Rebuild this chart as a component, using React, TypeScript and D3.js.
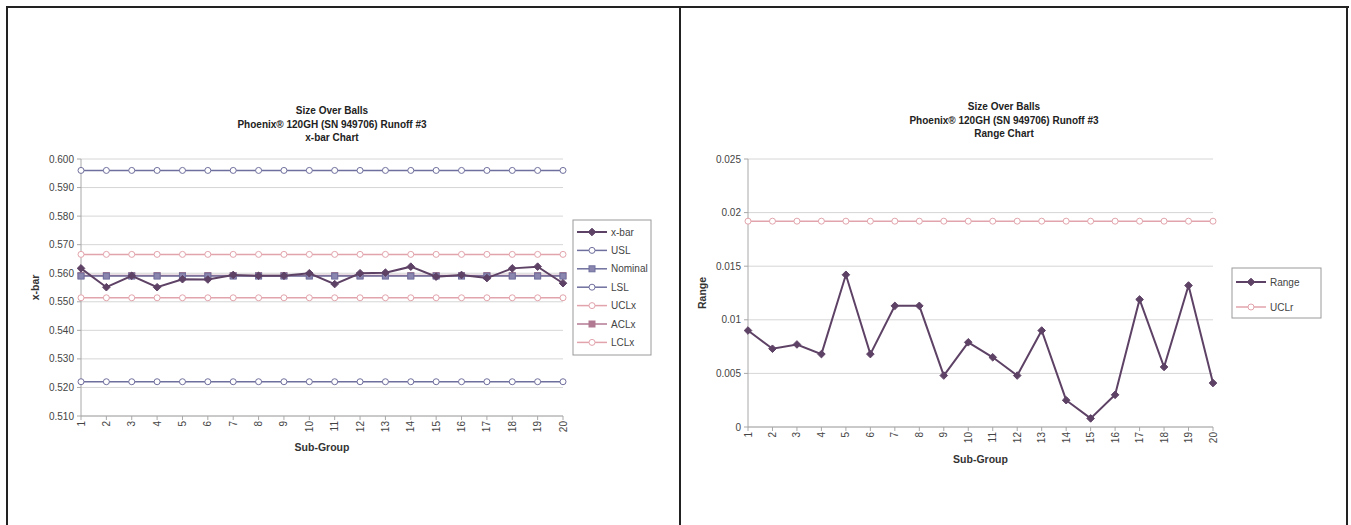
import React from "react";
import * as d3 from "d3";

// Sub-group numbers shared by both charts
const subGroups = d3.range(1, 21);

// x-bar chart series
const xbarValues = [0.5617, 0.5551, 0.5591, 0.5551, 0.5579, 0.5578, 0.5594, 0.5591, 0.5591, 0.56, 0.5562, 0.56, 0.5602, 0.5623, 0.5588, 0.5594, 0.5583, 0.5617, 0.5623, 0.5565];
const usl = 0.596;
const nominal = 0.559;
const lsl = 0.522;
const uclX = 0.5666;
const aclX = 0.5592;
const lclX = 0.5514;
const xbarTicks = [0.51, 0.52, 0.53, 0.54, 0.55, 0.56, 0.57, 0.58, 0.59, 0.6];

// Range chart series
const rangeValues = [0.009, 0.0073, 0.0077, 0.0068, 0.0142, 0.0068, 0.0113, 0.0113, 0.0048, 0.0079, 0.0065, 0.0048, 0.009, 0.0025, 0.0008, 0.003, 0.0119, 0.0056, 0.0132, 0.0041];
const uclR = 0.0192;
const rangeTicks = [0, 0.005, 0.01, 0.015, 0.02, 0.025];

const titleLines = ["Size Over Balls", "Phoenix® 120GH (SN 949706) Runoff #3"];

const FONT = "'Liberation Sans', Arial, sans-serif";
const C_DARK = "#5e4266";
const C_BLUE = "#6f6f9e";
const C_PINK = "#e2a4ac";
const C_PINK_DARK = "#b27a92";
const C_GRID = "#d6d6d6";
const C_AXIS = "#a8a8a8";

type Marker = "diamond" | "circle" | "square";

function MarkerShape({ x, y, kind, color, fill }: { x: number; y: number; kind: Marker; color: string; fill: string }) {
  if (kind === "diamond") {
    const s = 3.8;
    return <path d={`M${x},${y - s}L${x + s},${y}L${x},${y + s}L${x - s},${y}Z`} fill={fill} stroke={color} strokeWidth={1} />;
  }
  if (kind === "square") {
    return <rect x={x - 3} y={y - 3} width={6} height={6} fill={fill} stroke={color} strokeWidth={1} />;
  }
  return <circle cx={x} cy={y} r={3} fill={fill} stroke={color} strokeWidth={1} />;
}

interface Series {
  name: string;
  values: number[];
  color: string;
  width: number;
  marker: Marker;
  fill: string;
}

function ChartPanel(props: {
  x0: number; x1: number; y0: number; y1: number;
  domain: [number, number]; ticks: number[]; tickFmt: (v: number) => string;
  series: Series[]; title: string[]; titleX: number; titleY: number;
  yTitle: string; yTitleX: number; xTitleY: number; tickLabelY: number;
  legend: { x: number; y: number; w: number; h: number; rowY: number; step: number };
}) {
  const { x0, x1, y0, y1, domain, ticks, tickFmt, series, title, titleX, titleY, yTitle, yTitleX, xTitleY, tickLabelY, legend } = props;
  const x = d3.scalePoint<number>().domain(subGroups).range([x0, x1]);
  const y = d3.scaleLinear().domain(domain).range([y1, y0]);
  const line = d3.line<number>().x((_, i) => x(subGroups[i])!).y((v) => y(v));
  return (
    <g fontFamily={FONT}>
      {title.map((t, i) => (
        <text key={i} x={titleX} y={titleY + i * 13.5} textAnchor="middle" fontSize={10} fontWeight="bold" fill="#222">{t}</text>
      ))}
      {ticks.map((t) => (
        <g key={t}>
          <line x1={x0} x2={x1} y1={y(t)} y2={y(t)} stroke={C_GRID} strokeWidth={1} />
          <line x1={x0 - 4} x2={x0} y1={y(t)} y2={y(t)} stroke={C_AXIS} />
          <text x={x0 - 7} y={y(t)} dy="0.35em" textAnchor="end" fontSize={10} fill="#444">{tickFmt(t)}</text>
        </g>
      ))}
      <line x1={x0} x2={x0} y1={y0} y2={y1} stroke={C_AXIS} />
      <line x1={x0} x2={x1} y1={y1} y2={y1} stroke={C_AXIS} />
      {subGroups.map((g) => (
        <g key={g}>
          <line x1={x(g)} x2={x(g)} y1={y1} y2={y1 + 4} stroke={C_AXIS} />
          <text transform={`translate(${x(g)},${tickLabelY}) rotate(-90)`} dy="0.35em" textAnchor="end" fontSize={10} fill="#444">{g}</text>
        </g>
      ))}
      <text x={(x0 + x1) / 2} y={xTitleY} textAnchor="middle" fontSize={10.5} fontWeight="bold" fill="#333">Sub-Group</text>
      <text transform={`translate(${yTitleX},${(y0 + y1) / 2}) rotate(-90)`} textAnchor="middle" dy="0.35em" fontSize={10.5} fontWeight="bold" fill="#333">{yTitle}</text>
      {series.slice().reverse().map((s) => (
        <g key={s.name}>
          <path d={line(s.values)!} fill="none" stroke={s.color} strokeWidth={s.width} />
          {s.values.map((v, i) => (
            <MarkerShape key={i} x={x(subGroups[i])!} y={y(v)} kind={s.marker} color={s.color} fill={s.fill} />
          ))}
        </g>
      ))}
      <rect x={legend.x} y={legend.y} width={legend.w} height={legend.h} fill="#fff" stroke="#9a9a9a" />
      {series.map((s, i) => {
        const ly = legend.rowY + i * legend.step;
        const lx = legend.x + 4;
        return (
          <g key={s.name}>
            <line x1={lx} x2={lx + 30} y1={ly} y2={ly} stroke={s.color} strokeWidth={s.width} />
            <MarkerShape x={lx + 15} y={ly} kind={s.marker} color={s.color} fill={s.fill} />
            <text x={lx + 34} y={ly} dy="0.35em" fontSize={10} fill="#444">{s.name}</text>
          </g>
        );
      })}
    </g>
  );
}

const flat = (v: number) => subGroups.map(() => v);

export default function App() {
  const leftSeries: Series[] = [
    { name: "x-bar", values: xbarValues, color: C_DARK, width: 2, marker: "diamond", fill: C_DARK },
    { name: "USL", values: flat(usl), color: C_BLUE, width: 1.5, marker: "circle", fill: "#fff" },
    { name: "Nominal", values: flat(nominal), color: C_BLUE, width: 1.5, marker: "square", fill: "#8a86b0" },
    { name: "LSL", values: flat(lsl), color: C_BLUE, width: 1.5, marker: "circle", fill: "#fff" },
    { name: "UCLx", values: flat(uclX), color: C_PINK, width: 1.5, marker: "circle", fill: "#fff" },
    { name: "ACLx", values: flat(aclX), color: C_PINK_DARK, width: 1.5, marker: "square", fill: C_PINK_DARK },
    { name: "LCLx", values: flat(lclX), color: C_PINK, width: 1.5, marker: "circle", fill: "#fff" },
  ];
  const rightSeries: Series[] = [
    { name: "Range", values: rangeValues, color: C_DARK, width: 2, marker: "diamond", fill: C_DARK },
    { name: "UCLr", values: flat(uclR), color: C_PINK, width: 1.5, marker: "circle", fill: "#fff" },
  ];
  return (
    <svg width={1351} height={525} style={{ position: "absolute", left: 0, top: 0, background: "#fff" }}>
      <rect x={0} y={0} width={1351} height={525} fill="#fff" />
      <ChartPanel
        x0={81} x1={563} y0={159} y1={416}
        domain={[0.51, 0.6]} ticks={xbarTicks} tickFmt={d3.format(".3f")}
        series={leftSeries} title={[...titleLines, "x-bar Chart"]} titleX={332} titleY={114}
        yTitle="x-bar" yTitleX={35} xTitleY={451} tickLabelY={421}
        legend={{ x: 573, y: 220, w: 78, h: 135, rowY: 232, step: 18.4 }}
      />
      <ChartPanel
        x0={748} x1={1213} y0={159} y1={427}
        domain={[0, 0.025]} ticks={rangeTicks} tickFmt={(v) => (v === 0 ? "0" : String(+v.toFixed(3)))}
        series={rightSeries} title={[...titleLines, "Range Chart"]} titleX={1004} titleY={110}
        yTitle="Range" yTitleX={702} xTitleY={463} tickLabelY={432}
        legend={{ x: 1232, y: 268, w: 89, h: 50, rowY: 282, step: 25 }}
      />
      {/* table frame around the two panels */}
      <line x1={6} x2={1349} y1={7} y2={7} stroke="#222" strokeWidth={2} />
      <line x1={7} x2={7} y1={6} y2={525} stroke="#222" strokeWidth={2} />
      <line x1={680} x2={680} y1={6} y2={525} stroke="#222" strokeWidth={2} />
      <line x1={1347} x2={1347} y1={6} y2={525} stroke="#222" strokeWidth={2} />
    </svg>
  );
}
